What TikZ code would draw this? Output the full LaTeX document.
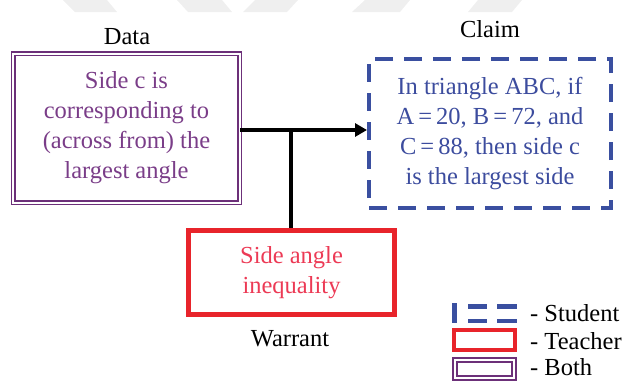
\documentclass[tikz,border=0pt]{standalone}
\usepackage{fontspec}
\setmainfont{Liberation Serif}
\usetikzlibrary{arrows.meta}
\definecolor{purp}{HTML}{6C3079}
\definecolor{purptext}{HTML}{7A3D88}
\definecolor{blu}{HTML}{3A4FA0}
\definecolor{blutext}{HTML}{3C4C9E}
\definecolor{rd}{HTML}{E8242B}
\definecolor{rdtext}{HTML}{EC3A55}
\definecolor{wm}{HTML}{EFEFEF}
\tikzset{
  lbl/.style={font=\fontsize{24.5bp}{30bp}\selectfont, text=black, inner sep=0pt},
  txt/.style={font=\fontsize{24.5bp}{30bp}\selectfont, align=center, inner sep=0pt},
  databox/.style={draw=purp, double=white, line width=1.6bp, double distance=2bp, txt, text=purptext},
  claimbox/.style={draw=blu, line width=4bp, dash pattern=on 18bp off 11bp, txt, text=blutext},
  warrbox/.style={draw=rd, line width=5bp, txt, text=rdtext},
  conn/.style={draw=black, line width=3.5bp},
}
\begin{document}
\begin{tikzpicture}[x=1bp,y=-1bp]
\useasboundingbox (0,0) rectangle (627,381);
% faint watermark at top
\fill[wm] (63,0) -- (107,0) -- (117,12) -- (75,12) -- cycle;
\fill[wm] (177,0) -- (222,0) -- (232,12) -- (188,12) -- cycle;
\fill[wm] (255,0) -- (298,0) -- (287,12) -- (243,12) -- cycle;
\fill[wm] (365,0) -- (410,0) -- (400,12) -- (352,12) -- cycle;
\fill[wm] (478,0) -- (522,0) -- (512,12) -- (468,12) -- cycle;

% labels
\node[lbl] (datalbl) at (127,37) {Data};
\node[lbl] (claimlbl) at (490,29) {Claim};
\node[lbl] (warrlbl) at (290,339) {Warrant};

% boxes
\node[databox, minimum width=226bp, minimum height=149bp] (data) at (126.5,128)
  {Side c is\\corresponding to\\(across from) the\\largest angle};
\node[claimbox, minimum width=242bp, minimum height=149bp] (claim) at (490,133.5)
  {In triangle ABC, if\\A\,=\,20, B\,=\,72, and\\C\,=\,88, then side c\\is the largest side};
\node[warrbox, minimum width=206bp, minimum height=84bp] (warr) at (291.5,272.5)
  {Side angle\\inequality};

% connectors
\coordinate (j) at (291,130);
\draw[conn, -{Triangle[length=12bp,width=13bp]}] (data.east |- j) -- (claim.west |- j);
\draw[conn, line width=4bp] (j) -- (j |- warr.north);

% legend
\fill[blu] (452,303) rectangle (457,323);
\fill[blu] (468,304) rectangle (487,308.5);
\fill[blu] (497,304) rectangle (517,308.5);
\fill[blu] (468,318.5) rectangle (487,323);
\fill[blu] (497,318.5) rectangle (517,323);
\node[draw=rd, line width=4bp, minimum width=61bp, minimum height=20bp, inner sep=0pt] (legT) at (484.5,340) {};
\node[draw=purp, double=white, line width=1.6bp, double distance=2bp, minimum width=59bp, minimum height=18bp, inner sep=0pt] (legB) at (484.5,369) {};
\node[lbl, anchor=west] (legStext) at (530,313) {- Student};
\node[lbl, anchor=west] (legTtext) at (530,341) {- Teacher};
\node[lbl, anchor=west] (legBtext) at (530,367) {- Both};
\end{tikzpicture}
\end{document}
